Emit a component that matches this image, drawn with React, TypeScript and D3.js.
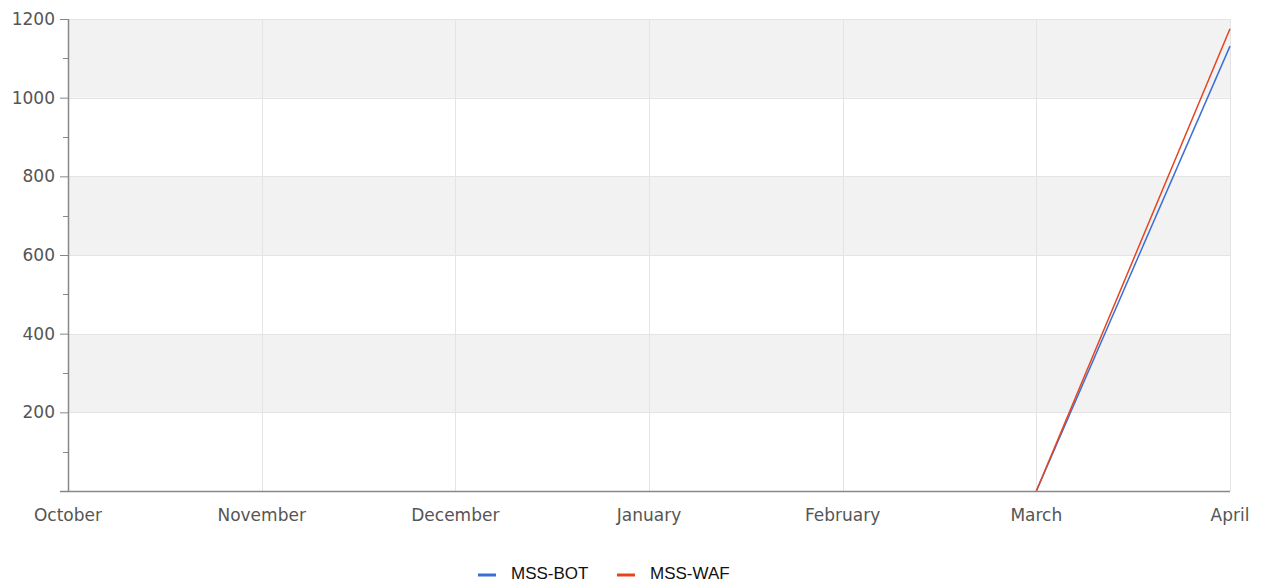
import * as d3 from 'd3';
import { useEffect, useRef } from 'react';

const months = ['October', 'November', 'December', 'January', 'February', 'March', 'April'];
// no data before March
const botValues: (number | null)[] = [null, null, null, null, null, 0, 1131];
const wafValues: (number | null)[] = [null, null, null, null, null, 0, 1175];
const yTicks = [200, 400, 600, 800, 1000, 1200];
const seriesNames = ['MSS-BOT', 'MSS-WAF'];
const seriesColors = ['#3b6fd6', '#e5441d'];

function App() {
    const svgRef = useRef<SVGSVGElement>(null);

    useEffect(() => {
        if (!svgRef.current) return;
        const svg = d3.select(svgRef.current);
        svg.selectAll('*').remove();

        const width = 1263;
        const height = 583;
        const left = 68, right = 1230, top = 19, bottom = 491;

        const x = d3.scalePoint<string>().domain(months).range([left, right]);
        const y = d3.scaleLinear().domain([0, 1200]).range([bottom, top]);

        svg.attr('width', width).attr('height', height);

        // alternating bands
        const bands = d3.range(0, 1200, 200);
        svg.append('g')
            .selectAll('rect')
            .data(bands)
            .join('rect')
            .attr('x', left)
            .attr('width', right - left)
            .attr('y', (d) => y(d + 200))
            .attr('height', (d) => y(d) - y(d + 200))
            .attr('fill', (d) => ((d / 200) % 2 === 1 ? '#f2f2f2' : '#ffffff'));

        // grid lines
        const grid = svg.append('g').attr('stroke', '#e4e4e4').attr('stroke-width', 1);
        grid.selectAll('line.h')
            .data(yTicks)
            .join('line')
            .attr('class', 'h')
            .attr('x1', left)
            .attr('x2', right)
            .attr('y1', (d) => Math.round(y(d)) + 0.5)
            .attr('y2', (d) => Math.round(y(d)) + 0.5);
        grid.selectAll('line.v')
            .data(months.slice(1))
            .join('line')
            .attr('class', 'v')
            .attr('y1', top)
            .attr('y2', bottom)
            .attr('x1', (d) => Math.round(x(d)!) + 0.5)
            .attr('x2', (d) => Math.round(x(d)!) + 0.5);

        // lines
        const line = d3.line<number | null>()
            .defined((d) => d !== null)
            .x((_, i) => x(months[i])!)
            .y((d) => y(d as number));
        [botValues, wafValues].forEach((vals, i) => {
            svg.append('path')
                .datum(vals)
                .attr('fill', 'none')
                .attr('stroke', seriesColors[i])
                .attr('stroke-width', 1.5)
                .attr('d', line);
        });

        // y axis
        const yAxis = svg.append('g')
            .attr('transform', `translate(${left},0)`)
            .call(d3.axisLeft(y).tickValues(yTicks).tickSize(8).tickFormat(d3.format('d')));
        yAxis.select('.domain').remove();
        yAxis.selectAll('line').attr('stroke', '#888');
        yAxis.selectAll('text')
            .attr('fill', '#555')
            .attr('font-size', 17)
            .attr('font-family', 'DejaVu Sans')
            .attr('x', -13);
        svg.append('g')
            .attr('stroke', '#888')
            .selectAll('line')
            .data(d3.range(100, 1200, 200))
            .join('line')
            .attr('x1', left - 5)
            .attr('x2', left)
            .attr('y1', (d) => Math.round(y(d)) + 0.5)
            .attr('y2', (d) => Math.round(y(d)) + 0.5);
        svg.append('line')
            .attr('x1', left + 0.5).attr('x2', left + 0.5)
            .attr('y1', top).attr('y2', bottom)
            .attr('stroke', '#888').attr('stroke-width', 1.5);

        // x axis
        svg.append('line')
            .attr('x1', left - 8).attr('x2', right)
            .attr('y1', bottom + 0.5).attr('y2', bottom + 0.5)
            .attr('stroke', '#888').attr('stroke-width', 1.5);
        svg.append('g')
            .selectAll('text')
            .data(months)
            .join('text')
            .attr('x', (d) => x(d)!)
            .attr('y', bottom + 30)
            .attr('text-anchor', 'middle')
            .attr('fill', '#555')
            .attr('font-size', 17)
            .attr('font-family', 'DejaVu Sans')
            .text((d) => d);

        // legend
        const legend = svg.append('g');
        const legendX = [478, 617];
        seriesNames.forEach((name, i) => {
            legend.append('line')
                .attr('x1', legendX[i]).attr('x2', legendX[i] + 18)
                .attr('y1', 575).attr('y2', 575)
                .attr('stroke', seriesColors[i]).attr('stroke-width', 3);
            legend.append('text')
                .attr('x', legendX[i] + 33)
                .attr('y', 579)
                .attr('font-size', 17)
                .attr('font-family', 'Liberation Sans')
                .attr('fill', '#111')
                .text(name);
        });
    }, []);

    return <svg ref={svgRef} style={{ position: 'absolute', left: 0, top: 0 }} />;
}

export default App;
